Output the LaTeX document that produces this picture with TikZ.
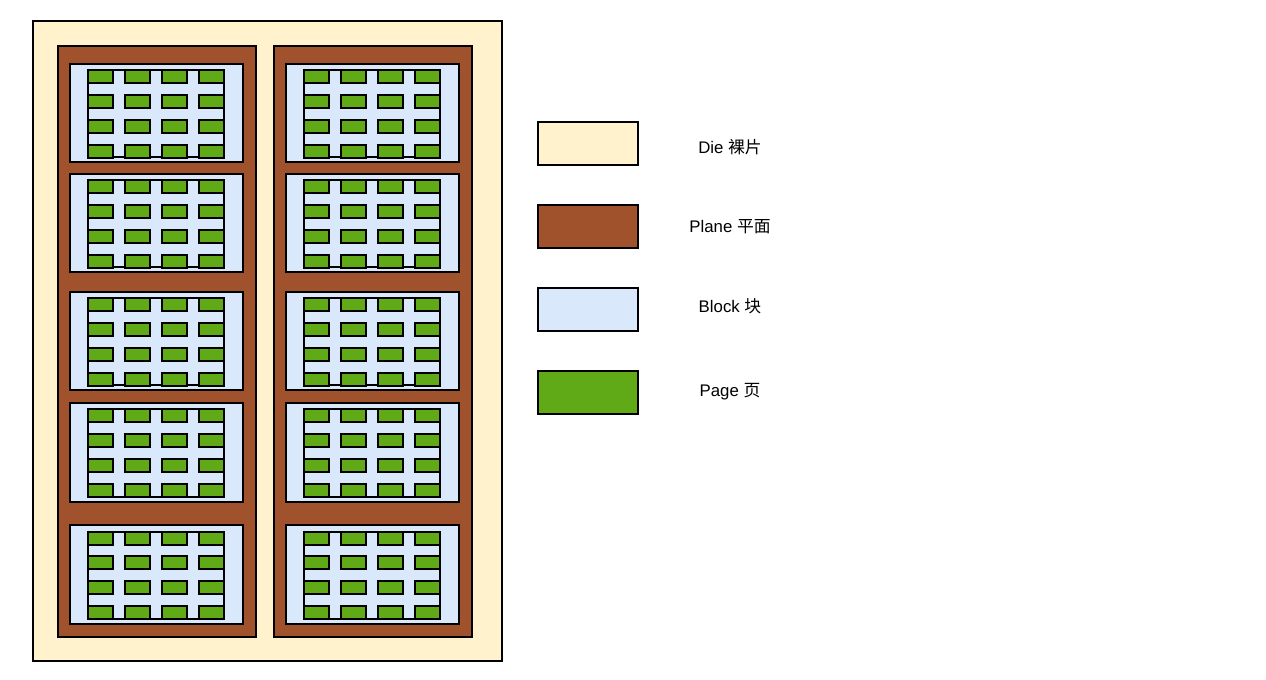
\documentclass[tikz,border=0pt]{standalone}
\usepackage{fontspec}
\setmainfont{Liberation Sans}
\newfontfamily\cjk{Noto Sans CJK SC}
\usetikzlibrary{positioning}
\definecolor{diefill}{HTML}{FFF2CC}
\definecolor{planefill}{HTML}{A0522D}
\definecolor{blockfill}{HTML}{DAE8FC}
\definecolor{pagefill}{HTML}{60A917}

\begin{document}
\begin{tikzpicture}[
  x=0.75pt, y=-0.75pt,
  font=\fontsize{12.6}{15}\selectfont,
  box/.style={rectangle, draw=black, line width=1.5pt, inner sep=0pt, outer sep=0pt, anchor=north west},
  diebox/.style={box, fill=diefill, line width=1.2pt, minimum width=469*0.75pt, minimum height=640*0.75pt},
  planebox/.style={box, fill=planefill, minimum width=198*0.75pt, minimum height=591*0.75pt},
  blockbox/.style={box, fill=blockfill, minimum width=173*0.75pt, minimum height=98.5*0.75pt},
  gridbox/.style={box, fill=blockfill, minimum width=136*0.75pt, minimum height=87*0.75pt},
  pagebox/.style={box, fill=pagefill, minimum width=25*0.75pt, minimum height=13*0.75pt},
  keybox/.style={box, anchor=center, minimum width=100*0.75pt, minimum height=43*0.75pt},
  keytext/.style={anchor=center, inner sep=0pt},
]
\useasboundingbox (0,0) rectangle (1266,680);

% --- Die with two planes ---
\node[diebox] (die) at (33,21) {};
\foreach \pl/\plx in {1/58, 2/274} {
  \node[planebox] (plane-\pl) at (\plx,46) {};
  % blocks, each holding a 4x4 grid of pages
  \foreach \b/\by in {1/64, 2/174, 3/292, 4/403, 5/525} {
    \node[blockbox] (blk-\pl-\b) at (\plx+12,\by) {};
    \node[gridbox] (grd-\pl-\b) at (\plx+30,\by+6.5) {};
    \foreach \r in {0,...,3}
      \foreach \c in {0,...,3}
        \node[pagebox] (pg-\pl-\b-\r-\c) at ([shift={(37*\c,24.67*\r)}]grd-\pl-\b.north west) {};
  }
}

% --- Legend ---
\foreach \k/\ky/\ty/\kc/\kt in {
    die/143.5/147/diefill/{Die {\cjk 裸片}},
    plane/226.5/226.5/planefill/{Plane {\cjk 平面}},
    block/309.5/306/blockfill/{Block {\cjk 块}},
    page/392.5/391.5/pagefill/{Page {\cjk 页}}} {
  \node[keybox, fill=\kc] (key-\k) at (588,\ky) {};
  \node[keytext] (lbl-\k) at (730,\ty) {\kt};
}

\end{tikzpicture}
\end{document}
